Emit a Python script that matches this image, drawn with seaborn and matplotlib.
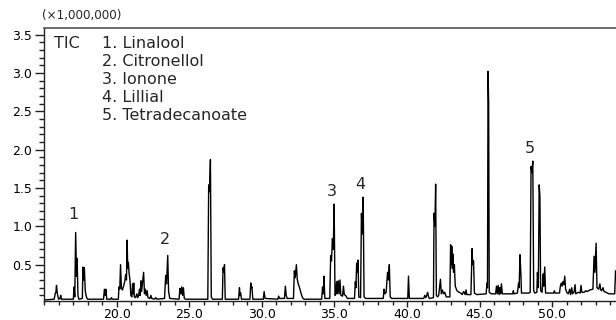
import numpy as np
import pandas as pd
import matplotlib
matplotlib.use("Agg")
import matplotlib.pyplot as plt
from matplotlib.ticker import MultipleLocator, FixedLocator, FormatStrFormatter
import seaborn as sns

# Total ion chromatogram: retention time (min) and intensity (x1,000,000 counts)
retention_time = [
    15.00, 15.70, 15.78, 15.82, 15.86, 15.92, 16.00, 16.10, 16.15, 16.20,
    17.02, 17.07, 17.12, 17.18, 17.24, 17.28, 17.34, 17.40, 17.64, 17.68,
    17.72, 17.78, 17.84, 17.92, 18.00, 19.10, 19.16, 19.22, 19.26, 19.32,
    19.60, 19.64, 19.70, 20.12, 20.16, 20.22, 20.27, 20.33, 20.40, 20.48,
    20.56, 20.62, 20.68, 20.72, 20.77, 20.81, 20.86, 20.92, 20.98, 21.05,
    21.10, 21.14, 21.18, 21.22, 21.30, 21.40, 21.45, 21.52, 21.57, 21.62,
    21.68, 21.72, 21.80, 21.86, 21.92, 21.98, 22.04, 22.10, 22.16, 22.30,
    22.36, 22.42, 22.60, 22.70, 22.78, 23.30, 23.38, 23.44, 23.52, 23.58,
    23.66, 24.30, 24.36, 24.42, 24.48, 24.54, 24.60, 24.66, 24.75, 26.28,
    26.34, 26.40, 26.46, 26.52, 26.60, 27.28, 27.33, 27.38, 27.43, 27.48,
    28.40, 28.46, 28.50, 28.54, 28.60, 29.18, 29.24, 29.29, 29.32, 29.38,
    30.10, 30.16, 30.22, 31.10, 31.16, 31.22, 31.56, 31.62, 31.68, 31.74,
    32.18, 32.24, 32.30, 32.38, 32.44, 32.52, 32.60, 32.68, 32.80, 32.90,
    34.12, 34.18, 34.24, 34.28, 34.34, 34.68, 34.74, 34.80, 34.86, 34.92,
    34.98, 35.04, 35.10, 35.15, 35.20, 35.26, 35.32, 35.38, 35.44, 35.56,
    35.62, 35.68, 35.76, 35.90, 36.38, 36.44, 36.48, 36.53, 36.58, 36.62,
    36.68, 36.80, 36.86, 36.92, 36.98, 37.04, 37.15, 38.36, 38.42, 38.48,
    38.56, 38.66, 38.72, 38.78, 38.84, 38.95, 40.05, 40.10, 40.16, 41.15,
    41.22, 41.30, 41.42, 41.48, 41.54, 41.82, 41.86, 41.92, 41.97, 42.02,
    42.10, 42.18, 42.30, 42.36, 42.44, 42.52, 42.60, 42.70, 42.95, 43.00,
    43.04, 43.08, 43.12, 43.16, 43.20, 43.26, 43.32, 43.44, 43.58, 43.70,
    43.80, 43.90, 44.00, 44.06, 44.12, 44.40, 44.48, 44.52, 44.58, 44.64,
    44.80, 45.45, 45.50, 45.54, 45.58, 45.62, 45.66, 45.80, 46.10, 46.16,
    46.22, 46.28, 46.34, 46.40, 46.44, 46.50, 46.56, 46.90, 47.28, 47.32,
    47.36, 47.60, 47.68, 47.72, 47.78, 47.84, 47.88, 48.40, 48.48, 48.54,
    48.60, 48.66, 48.72, 48.80, 48.94, 48.98, 49.04, 49.10, 49.15, 49.20,
    49.30, 49.38, 49.42, 49.48, 49.54, 49.70, 50.10, 50.14, 50.20, 50.50,
    50.56, 50.62, 50.68, 50.74, 50.80, 50.86, 50.92, 51.00, 51.10, 51.20,
    51.26, 51.34, 51.40, 51.50, 51.57, 51.62, 51.80, 51.92, 51.98, 52.04,
    52.20, 52.30, 52.40, 52.60, 52.80, 52.88, 52.94, 53.02, 53.08, 53.20,
    53.28, 53.34, 53.40, 53.50, 53.56, 53.70, 53.90, 54.10, 54.30, 54.36,
    54.45,
]
intensity = [
    0.04, 0.05, 0.13, 0.14, 0.23, 0.12, 0.05, 0.06, 0.10, 0.05,
    0.05, 0.21, 0.08, 0.92, 0.35, 0.58, 0.10, 0.05, 0.06, 0.47,
    0.30, 0.46, 0.16, 0.08, 0.05, 0.05, 0.18, 0.10, 0.18, 0.05,
    0.05, 0.07, 0.05, 0.05, 0.21, 0.18, 0.50, 0.20, 0.17, 0.22,
    0.28, 0.37, 0.30, 0.82, 0.45, 0.53, 0.39, 0.30, 0.10, 0.08,
    0.25, 0.12, 0.26, 0.08, 0.07, 0.12, 0.07, 0.10, 0.18, 0.10,
    0.29, 0.15, 0.30, 0.40, 0.12, 0.18, 0.10, 0.16, 0.07, 0.06,
    0.10, 0.06, 0.05, 0.07, 0.05, 0.06, 0.36, 0.25, 0.62, 0.15,
    0.06, 0.05, 0.19, 0.12, 0.21, 0.10, 0.20, 0.06, 0.05, 0.05,
    1.54, 1.45, 1.87, 0.08, 0.05, 0.05, 0.46, 0.40, 0.50, 0.05,
    0.05, 0.20, 0.10, 0.13, 0.05, 0.05, 0.26, 0.20, 0.21, 0.05,
    0.05, 0.15, 0.06, 0.05, 0.09, 0.06, 0.06, 0.22, 0.10, 0.06,
    0.06, 0.42, 0.33, 0.50, 0.31, 0.24, 0.20, 0.14, 0.07, 0.05,
    0.05, 0.21, 0.12, 0.35, 0.06, 0.06, 0.62, 0.55, 0.84, 0.70,
    1.29, 0.10, 0.12, 0.28, 0.12, 0.29, 0.12, 0.30, 0.10, 0.09,
    0.22, 0.11, 0.10, 0.06, 0.06, 0.28, 0.20, 0.52, 0.40, 0.56,
    0.08, 0.07, 1.17, 0.90, 1.38, 0.08, 0.06, 0.06, 0.18, 0.12,
    0.14, 0.40, 0.30, 0.50, 0.08, 0.06, 0.06, 0.35, 0.06, 0.06,
    0.10, 0.07, 0.14, 0.08, 0.06, 0.07, 1.17, 1.00, 1.55, 0.10,
    0.08, 0.10, 0.31, 0.12, 0.17, 0.12, 0.14, 0.08, 0.08, 0.76,
    0.50, 0.74, 0.45, 0.64, 0.40, 0.50, 0.22, 0.16, 0.14, 0.13,
    0.11, 0.15, 0.11, 0.17, 0.11, 0.11, 0.71, 0.50, 0.55, 0.13,
    0.11, 0.12, 0.26, 0.20, 3.02, 2.61, 0.14, 0.12, 0.12, 0.22,
    0.12, 0.23, 0.11, 0.20, 0.12, 0.25, 0.12, 0.12, 0.12, 0.16,
    0.12, 0.13, 0.26, 0.20, 0.63, 0.38, 0.13, 0.13, 0.14, 1.78,
    1.70, 1.85, 0.16, 0.13, 0.14, 0.40, 0.20, 1.54, 1.40, 0.16,
    0.14, 0.38, 0.22, 0.47, 0.13, 0.13, 0.13, 0.16, 0.13, 0.13,
    0.22, 0.26, 0.22, 0.28, 0.24, 0.35, 0.18, 0.14, 0.12, 0.18,
    0.11, 0.20, 0.12, 0.14, 0.24, 0.12, 0.14, 0.13, 0.23, 0.14,
    0.14, 0.16, 0.15, 0.17, 0.18, 0.61, 0.40, 0.78, 0.20, 0.18,
    0.25, 0.17, 0.16, 0.20, 0.15, 0.14, 0.12, 0.12, 0.12, 0.42,
    0.42,
]

# Annotated compounds: label, retention time and label height
peak_labels = ["1", "2", "3", "4", "5"]
peak_label_rt = [17.00, 23.33, 34.83, 36.78, 48.47]
peak_label_height = [1.15, 0.83, 1.45, 1.55, 2.01]
compound_names = ["1. Linalool", "2. Citronellol", "3. Ionone",
                  "4. Lillial", "5. Tetradecanoate"]
x_tick_values = [20.0, 25.0, 30.0, 35.0, 40.0, 45.0, 50.0]

sns.set_style("ticks")
plt.rcParams["font.family"] = ["DejaVu Sans"]

W, H = 616, 320
fig = plt.figure(figsize=(W / 100, H / 100), dpi=100)
ax = fig.add_axes([44 / W, 1 - 300.5 / H, 572 / W, 272.5 / H])

df = pd.DataFrame({"rt": retention_time, "tic": intensity})
sns.lineplot(data=df, x="rt", y="tic", estimator=None, sort=False,
             color="black", linewidth=1.0, ax=ax)

ax.set_xlim(15.0, 54.39)
ax.set_ylim(0.033, 3.585)
ax.set_xlabel("")
ax.set_ylabel("")

ax.xaxis.set_major_locator(FixedLocator(x_tick_values))
ax.xaxis.set_minor_locator(MultipleLocator(1))
ax.yaxis.set_major_locator(MultipleLocator(0.5))
ax.yaxis.set_minor_locator(MultipleLocator(0.1))
ax.xaxis.set_major_formatter(FormatStrFormatter("%.1f"))
ax.yaxis.set_major_formatter(FormatStrFormatter("%.1f"))

ax.tick_params(axis="both", which="both", direction="out", width=1.0,
               color="#222222", labelsize=9, labelcolor="black")
ax.tick_params(axis="y", which="major", length=6.5, pad=2)
ax.tick_params(axis="y", which="minor", length=3.6)
ax.tick_params(axis="x", which="major", length=4.5, pad=1)
ax.tick_params(axis="x", which="minor", length=3)

for side in ("left", "bottom"):
    ax.spines[side].set_color("#222222")
    ax.spines[side].set_linewidth(1.0)
ax.spines["top"].set_visible(True)
ax.spines["top"].set_color("#555555")
ax.spines["top"].set_linewidth(1.2)
ax.spines["right"].set_visible(False)

fig.text(42 / W, 1 - 16 / H, "(×1,000,000)", fontsize=8.6, va="center", ha="left")

fig.text(54 / W, 1 - 44 / H, "TIC", fontsize=11.5, va="center", ha="left")
for i, name in enumerate(compound_names):
    fig.text(102 / W, 1 - (44 + 18 * i) / H, name, fontsize=11.5,
             va="center", ha="left")

for lab, rt, h in zip(peak_labels, peak_label_rt, peak_label_height):
    ax.text(rt, h, lab, fontsize=11.5, ha="center", va="center")

fig.savefig("out.png", dpi=100)
